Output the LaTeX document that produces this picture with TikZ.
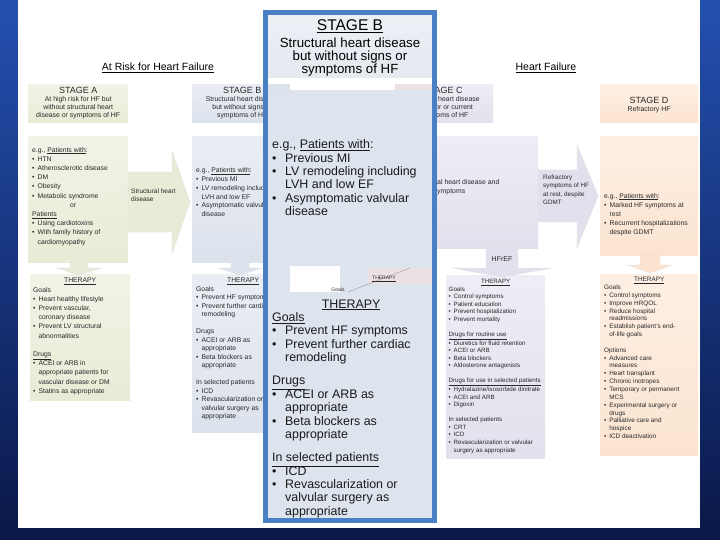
\documentclass[tikz,border=0pt]{standalone}
\usepackage{fontspec}
\setmainfont{Liberation Sans}
\definecolor{cA}{RGB}{231,236,214}
\definecolor{cB}{RGB}{220,226,236}
\definecolor{cC}{RGB}{227,224,237}
\definecolor{cD}{RGB}{252,228,209}
\definecolor{ovfill}{RGB}{221,228,238}
\definecolor{ovhead}{RGB}{229,233,240}
\definecolor{ovline}{RGB}{74,127,197}
\definecolor{ink}{RGB}{40,40,40}
\definecolor{navyT}{RGB}{36,80,176}
\definecolor{navyB}{RGB}{10,24,72}
\newcommand\bu{\makebox[0.8em][l]{\textbullet}}
\newcommand\ind{\hspace*{0.8em}}
\newcommand\Bu{\makebox[1.05em][l]{\textbullet}}
\newcommand\Ind{\hspace*{1.05em}}
\tikzset{
  stg/.style={inner sep=0pt, anchor=north west, draw=none},
  sm/.style={font=\fontsize{6.8}{9.2}\selectfont, text=ink, inner sep=0pt, align=left, anchor=north west},
  hdrtxt/.style={font=\fontsize{6.9}{8}\selectfont, text=ink, inner sep=0pt, align=center},
  ttl/.style={font=\fontsize{10.5}{12}\selectfont, text=black, inner sep=0pt},
  ovt/.style={font=\fontsize{12.4}{13.35}\selectfont, text=black!90, inner sep=0pt, align=left, anchor=north west},
  barrow/.style={draw=black!12, line width=0.4pt},
}
\begin{document}
\begin{tikzpicture}[x=1pt,y=-1pt]
\useasboundingbox (0,0) rectangle (720,540);
\shade[top color=navyT, bottom color=navyB] (0,0) rectangle (720,540);
\fill[white] (18,0) rectangle (700,528);

% titles
\node[ttl] (hrisk) at (158,68) {\underline{At Risk for Heart Failure}};
\node[ttl] (hhf) at (546,68) {\underline{Heart Failure}};

% ---------- Stage A ----------
\node[stg, top color=cA!60!white, bottom color=cA, minimum width=100, minimum height=38] (ahdr) at (28,84) {};
\node[hdrtxt] (ahdrt) at (ahdr.center) {{\fontsize{9}{10}\selectfont STAGE A}\\At high risk for HF but\\without structural heart\\disease or symptoms of HF};
\node[stg, top color=cA!60!white, bottom color=cA, minimum width=100, minimum height=126] (apat) at (28,136) {};
\node[stg, top color=cA!60!white, bottom color=cA, minimum width=100, minimum height=126] (ather) at (30,274) {};
% arrows A
\filldraw[barrow, fill=cA] (128,172) -- (172,172) -- (172,151) -- (190,202) -- (172,253) -- (172,232) -- (128,232) -- cycle;
\filldraw[barrow, fill=cA] (70,262) -- (88,262) -- (88,268) -- (101,268) -- (79,275) -- (57,268) -- (70,268) -- cycle;
\node[sm, font=\fontsize{6.5}{7.5}\selectfont] (alab) at (131,189) {Structural heart\\disease};
\node[sm] (atxt) at (32,147) {e.g., \underline{Patients with}:\\
\bu HTN\\
\bu Atherosclerotic disease\\
\bu DM\\
\bu Obesity\\
\bu Metabolic syndrome\\
\hspace*{38pt}or\\
\underline{Patients}\\
\bu Using cardiotoxins\\
\bu With family history of\\
\ind cardiomyopathy};
\node[sm] (athx) at (33,278) {\makebox[94pt]{\underline{THERAPY}}\\
Goals\\
\bu Heart healthy lifestyle\\
\bu Prevent vascular,\\
\ind coronary disease\\
\bu Prevent LV structural\\
\ind abnormalities\\[9.2pt]
\underline{Drugs}\\
\bu ACEI or ARB in\\
\ind appropriate patients for\\
\ind vascular disease or DM\\
\bu Statins as appropriate};

% ---------- Stage B (background) ----------
\node[stg, top color=cB!60!white, bottom color=cB, minimum width=100, minimum height=38] (bhdr) at (192,84) {};
\node[hdrtxt] (bhdrt) at (bhdr.center) {{\fontsize{9}{10}\selectfont STAGE B}\\Structural heart disease\\but without signs or\\symptoms of HF};
\node[stg, top color=cB!60!white, bottom color=cB, minimum width=110, minimum height=126] (bpat) at (192,136) {};
\node[stg, top color=cB!60!white, bottom color=cB, minimum width=110, minimum height=158] (bther) at (192,274) {};
\filldraw[barrow, fill=cB] (231,262) -- (249,262) -- (249,268) -- (262,268) -- (240,275) -- (218,268) -- (231,268) -- cycle;
\node[sm, font=\fontsize{6.8}{8.8}\selectfont] (btxt) at (196,167.5) {e.g., \underline{Patients with}:\\
\bu Previous MI\\
\bu LV remodeling including\\
\ind LVH and low EF\\
\bu Asymptomatic valvular\\
\ind disease};
\node[sm, font=\fontsize{6.8}{8.5}\selectfont] (bthx) at (196,278) {\makebox[94pt]{\underline{THERAPY}}\\
Goals\\
\bu Prevent HF symptoms\\
\bu Prevent further cardiac\\
\ind remodeling\\[8.5pt]
Drugs\\
\bu ACEI or ARB as\\
\ind appropriate\\
\bu Beta blockers as\\
\ind appropriate\\[8.5pt]
In selected patients\\
\bu ICD\\
\bu Revascularization or\\
\ind valvular surgery as\\
\ind appropriate};

% ---------- Stage C ----------
\node[stg, top color=cC!60!white, bottom color=cC, minimum width=100, minimum height=38] (chdr) at (393,84) {};
\node[hdrtxt] (chdrt) at (chdr.center) {{\fontsize{9}{10}\selectfont STAGE C}\\Structural heart disease\\with prior or current\\symptoms of HF};
\node[stg, top color=cC!60!white, bottom color=cC, minimum width=158, minimum height=112] (cpat) at (380,136) {};
\node[sm, font=\fontsize{6.9}{8.5}\selectfont] (ctxt) at (385.5,179.5) {\bu Known structural heart disease and\\
\bu HF signs and symptoms};
\filldraw[barrow, fill=cC] (538,170) -- (577,170) -- (577,145) -- (598,196) -- (577,248) -- (577,222) -- (538,222) -- cycle;
\node[sm, font=\fontsize{6.3}{8.2}\selectfont] (clab) at (543,175) {Refractory\\symptoms of HF\\at rest, despite\\GDMT};
\node[stg, top color=cC!60!white, bottom color=cC, minimum width=99, minimum height=183] (cther) at (446,275) {};
\filldraw[barrow, fill=cC] (486,248) -- (518,248) -- (518,268) -- (552,268) -- (502,277) -- (452,268) -- (486,268) -- cycle;
\node[inner sep=0pt, font=\fontsize{7}{8}\selectfont, text=ink] (hfref) at (502,259) {HFrEF};
\node[sm, font=\fontsize{6.2}{7.55}\selectfont] (cthx) at (448.5,279) {\makebox[94pt]{\underline{THERAPY}}\\
Goals\\
\bu Control symptoms\\
\bu Patient education\\
\bu Prevent hospitalization\\
\bu Prevent mortality\\[7.55pt]
\underline{Drugs for routine use}\\
\bu Diuretics for fluid retention\\
\bu ACEI or ARB\\
\bu Beta blockers\\
\bu Aldosterone antagonists\\[7.55pt]
\underline{Drugs for use in selected patients}\\
\bu Hydralazine/isosorbide dinitrate\\
\bu ACEI and ARB\\
\bu Digoxin\\[7.55pt]
In selected patients\\
\bu CRT\\
\bu ICD\\
\bu Revascularization or valvular\\
\ind surgery as appropriate};

% ---------- Stage D ----------
\node[stg, top color=cD!60!white, bottom color=cD, minimum width=98, minimum height=38] (dhdr) at (600,84) {};
\node[hdrtxt] (dhdrt) at (649,105.5) {{\fontsize{9}{10}\selectfont STAGE D}\\Refractory HF};
\node[stg, top color=cD!60!white, bottom color=cD, minimum width=98, minimum height=119] (dpat) at (600,136) {};
\node[stg, top color=cD!60!white, bottom color=cD, minimum width=98, minimum height=181] (dther) at (600,274) {};
\filldraw[barrow, fill=cD] (640,254) -- (660,254) -- (660,265) -- (672,265) -- (650,273) -- (628,265) -- (640,265) -- cycle;
\node[sm] (dtxt) at (604,193) {e.g., \underline{Patients with}:\\
\bu Marked HF symptoms at\\
\ind rest\\
\bu Recurrent hospitalizations\\
\ind despite GDMT};
\node[sm, font=\fontsize{6.4}{7.85}\selectfont] (dthx) at (604,277) {\makebox[90pt]{\underline{THERAPY}}\\
Goals\\
\bu Control symptoms\\
\bu Improve HRQOL\\
\bu Reduce hospital\\
\ind readmissions\\
\bu Establish patient's end-\\
\ind of-life goals\\[7.85pt]
Options\\
\bu Advanced care\\
\ind measures\\
\bu Heart transplant\\
\bu Chronic inotropes\\
\bu Temporary or permanent\\
\ind MCS\\
\bu Experimental surgery or\\
\ind drugs\\
\bu Palliative care and\\
\ind hospice\\
\bu ICD deactivation};

% ---------- Overlay: enlarged Stage B ----------
\fill[ovfill] (265.5,12.5) rectangle (434.5,520.5);
\shade[top color=ovhead!70!white, bottom color=ovhead] (267,14) rectangle (433,78);
\fill[white] (267,78) rectangle (433,90);
\fill[cB] (267,84) rectangle (290,90);
\fill[cC!60!cD] (395,84) rectangle (433,90);
% fragments near the therapy part
\fill[white] (290,266) rectangle (340,292);
\fill[cC!70!cD] (368,268) rectangle (433,284);
\draw[black!40, line width=0.4pt] (348,292) -- (410,268);
\node[inner sep=0pt, font=\fontsize{5}{6}\selectfont, text=ink] (frth) at (384,279) {\underline{THERAPY}};
\node[inner sep=0pt, font=\fontsize{5}{6}\selectfont, text=ink] (frgo) at (338,290) {Goals};
\draw[ovline, line width=4.5pt] (265.5,12.5) rectangle (434.5,520.5);

\node[inner sep=0pt, font=\fontsize{15.5}{16}\selectfont, text=black] (ovs) at (350,26) {\underline{STAGE B}};
\node[inner sep=0pt, align=center, font=\fontsize{13.3}{13}\selectfont, text=black] (ovsub) at (350,57) {Structural heart disease\\but without signs or\\symptoms of HF};
\node[ovt] (ovp) at (272,139.5) {e.g., \underline{Patients with}:\\
\Bu Previous MI\\
\Bu LV remodeling including\\
\Ind LVH and low EF\\
\Bu Asymptomatic valvular\\
\Ind disease};
\node[ovt] (ovth) at (272,299.5) {\makebox[158pt]{\underline{THERAPY}}\\
\underline{Goals}\\
\Bu Prevent HF symptoms\\
\Bu Prevent further cardiac\\
\Ind remodeling\\[10pt]
\underline{Drugs}\\
\Bu ACEI or ARB  as\\
\Ind appropriate\\
\Bu Beta blockers as\\
\Ind appropriate\\[10pt]
\underline{In selected patients}\\
\Bu ICD\\
\Bu Revascularization or\\
\Ind valvular surgery as\\
\Ind appropriate};
\end{tikzpicture}
\end{document}
